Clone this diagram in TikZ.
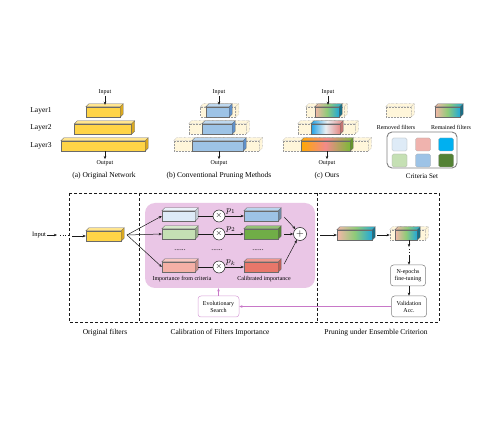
\documentclass[tikz,border=0pt]{standalone}
\usepackage{fontspec}
\setmainfont{Liberation Serif}
\usepackage{tikz}
\usetikzlibrary{arrows.meta,positioning,calc,shapes.misc}
\definecolor{ink}{HTML}{1A1A1A}
\definecolor{edge}{HTML}{6A6A6A}
\definecolor{yel}{HTML}{FFD447}
\definecolor{yelt}{HTML}{FFE58F}
\definecolor{yeld}{HTML}{D9A820}
\definecolor{cream}{HTML}{FFF6DA}
\definecolor{blu}{HTML}{9DC3E6}
\definecolor{blut}{HTML}{BDD7EE}
\definecolor{blud}{HTML}{5E8FC8}
\definecolor{crA}{HTML}{DEEBF7}
\definecolor{crB}{HTML}{F0B3AE}
\definecolor{crC}{HTML}{00B0F0}
\definecolor{crD}{HTML}{C5E0B4}
\definecolor{crE}{HTML}{9DC3E6}
\definecolor{crF}{HTML}{548235}
\definecolor{wone}{HTML}{9DC3E6}
\definecolor{wtwo}{HTML}{70AD47}
\definecolor{wk}{HTML}{E8776A}
\definecolor{ckin}{HTML}{F4B0A6}
\definecolor{gpink}{HTML}{F4B6A8}
\definecolor{ggreen}{HTML}{8FCB78}
\definecolor{gcyan}{HTML}{22A8D8}
\definecolor{gteal}{HTML}{1A6E85}
\definecolor{gblue}{HTML}{1EA0E6}
\definecolor{gwhite}{HTML}{E8EEF2}
\definecolor{gred}{HTML}{E58A86}
\definecolor{gorange}{HTML}{FFA800}
\definecolor{gsalmon}{HTML}{F28A8A}
\definecolor{glime}{HTML}{7DB83A}
\definecolor{pinkbg}{HTML}{EAC6E6}
\definecolor{evo}{HTML}{D9A0D9}
\definecolor{evoarrow}{HTML}{C878C8}

% depth faces of a filter block (top face, side face)
\newcommand{\slab}[3]{%
  \path[draw=edge,line width=0.3pt,#2] (#1.north west) -- ++(3,-3) -- ($(#1.north east)+(3,-3)$) -- (#1.north east) -- cycle;
  \path[draw=edge,line width=0.3pt,#3] (#1.north east) -- ($(#1.north east)+(3,-3)$) -- ($(#1.south east)+(3,-3)$) -- (#1.south east) -- cycle;}

\begin{document}
\begin{tikzpicture}[x=1pt,y=-1pt]
    \tikzset{
      filt/.style={draw=edge,line width=0.3pt,minimum height=10,inner sep=0,fill=#1},
      filt/.default=white,
      gone/.style={draw=gray!80,densely dotted,line width=0.5pt,fill=cream,minimum height=10,inner sep=0},
      gonef/.style={draw=gray!80,densely dotted,line width=0.5pt,fill=cream},
      gradA/.style={left color=gpink,right color=gcyan,middle color=ggreen},
      gradB/.style={left color=gblue,right color=gred,middle color=gwhite},
      gradC/.style={left color=gorange,right color=glime,middle color=gsalmon},
      lbl/.style={font=\fontsize{7.5}{8.5}\selectfont,inner sep=1pt},
      tiny/.style={font=\fontsize{6}{7}\selectfont,align=center,inner sep=1pt},
      plbl/.style={above,pos=0.3,font=\fontsize{9}{9}\selectfont,inner sep=1pt},
      arrow/.style={-{Stealth[length=3.2pt,width=2.6pt]},draw=ink,line width=0.5pt},
      parrow/.style={-{Stealth[length=3.2pt,width=2.6pt]},draw=evoarrow,line width=0.6pt},
      rbox/.style={rounded corners=3pt,draw=gray,line width=0.5pt,fill=white,minimum width=35,minimum height=21,align=center,font=\fontsize{6}{7}\selectfont,inner sep=1pt},
      crit/.style={draw=gray!70,line width=0.3pt,rounded corners=1.5pt,minimum width=15,minimum height=13,inner sep=0,fill=#1},
      opnode/.style={circle,draw=ink,line width=0.5pt,fill=white,inner sep=0,minimum size=#1},
      frame/.style={draw=ink,line width=0.8pt,dash pattern=on 3pt off 2pt}
    }
    \useasboundingbox[fill=white] (0,0) rectangle (491,441);

    % (a) original network
    \node[lbl] (l1) at (41,111) {Layer1};
    \node[lbl] (l2) at (41,128) {Layer2};
    \node[lbl] (l3) at (41,146) {Layer3};
    \node[filt=yel,minimum width=34] (a1) at (103,112) {};
    \slab{a1}{fill=yelt}{fill=yeld}
    \node[filt=yel,minimum width=57] (a2) at (103,129) {};
    \slab{a2}{fill=yelt}{fill=yeld}
    \node[filt=yel,minimum width=84] (a3) at (103,146) {};
    \slab{a3}{fill=yelt}{fill=yeld}
    \node[tiny] (ain) at (105,92) {Input};
    \node[tiny] (aout) at (105,163) {Output};
    \draw[arrow] (ain) -- ($(ain |- a1.north)+(0,-2)$);
    \draw[arrow] (a3.south -| aout) -- (aout);
    \node[lbl] (capa) at (104,176) {(a) Original Network};

    % (b) conventional pruning
    \node[gone,minimum width=35] (b1o) at (218,112) {};
    \slab{b1o}{gonef}{gonef}
    \node[filt=blu,minimum width=23] (b1) at (217.5,112) {};
    \slab{b1}{fill=blut}{fill=blud}
    \node[gone,minimum width=57] (b2o) at (217.5,129) {};
    \slab{b2o}{gonef}{gonef}
    \node[filt=blu,minimum width=30] (b2) at (217,129) {};
    \slab{b2}{fill=blut}{fill=blud}
    \node[gone,minimum width=85] (b3o) at (216.5,146) {};
    \slab{b3o}{gonef}{gonef}
    \node[filt=blu,minimum width=51] (b3) at (217.5,146) {};
    \slab{b3}{fill=blut}{fill=blud}
    \node[tiny] (bin) at (219,92) {Input};
    \node[tiny] (bout) at (219,163) {Output};
    \draw[arrow] (bin) -- ($(bin |- b1.north)+(0,-2)$);
    \draw[arrow] (b3.south -| bout) -- (bout);
    \node[lbl] (capb) at (219,176) {(b) Conventional Pruning Methods};

    % (c) ours
    \node[gone,minimum width=38] (c1o) at (325,112) {};
    \slab{c1o}{gonef}{gonef}
    \node[filt,gradA,minimum width=24] (c1) at (327,112) {};
    \slab{c1}{gradA}{fill=gteal}
    \node[gone,minimum width=57] (c2o) at (326.5,129) {};
    \slab{c2o}{gonef}{gonef}
    \node[filt,gradB,minimum width=29] (c2) at (325.5,129) {};
    \slab{c2}{gradB}{fill=gred!85!black}
    \node[gone,minimum width=85] (c3o) at (325.5,146) {};
    \slab{c3o}{gonef}{gonef}
    \node[filt,gradC,minimum width=49] (c3) at (325.5,146) {};
    \slab{c3}{gradC}{fill=glime!80!black}
    \node[tiny] (cin) at (328,92) {Input};
    \node[tiny] (cout) at (327,163) {Output};
    \draw[arrow] (cin) -- ($(cin |- c1.north)+(0,-2)$);
    \draw[arrow] (c3.south -| cout) -- (cout);
    \node[lbl] (capc) at (327,176) {(c) Ours};

    % legend
    \node[gone,minimum width=25] (rmv) at (398.5,112) {};
    \slab{rmv}{gonef}{gonef}
    \node[filt,gradA,minimum width=25] (rmn) at (447.5,112) {};
    \slab{rmn}{gradA}{fill=gteal}
    \node[tiny] (rmvl) at (396,127) {Removed filters};
    \node[tiny] (rmnl) at (451,127) {Remained filters};
    \node[draw=gray,line width=0.9pt,rounded corners=5pt,minimum width=70,minimum height=36] (cset) at (422,150) {};
    \node[crit=crA] (sA) at (399.5,144.5) {};
    \node[crit=crB] (sB) at (423,144.5) {};
    \node[crit=crC] (sC) at (446,144.5) {};
    \node[crit=crD] (sD) at (399.5,160.5) {};
    \node[crit=crE] (sE) at (423,160.5) {};
    \node[crit=crF] (sF) at (446,160.5) {};
    \node[lbl,font=\fontsize{7}{8}\selectfont] (csetl) at (422,176) {Criteria Set};

    % bottom: dashed panels
    \draw[frame] (69,193) rectangle (439,322);
    \draw[frame] (139,193) -- (139,322);
    \draw[frame] (317,193) -- (317,322);

    % original filters
    \node[lbl,font=\fontsize{6.5}{7.5}\selectfont] (inp) at (39,235) {Input};
    \coordinate (ia) at (57,235);
    \coordinate (ib) at (60,235);
    \coordinate (ic) at (68,235);
    \coordinate (id) at (72,236);
    \node[filt=yel,minimum width=35] (orig) at (103.5,236) {};
    \slab{orig}{fill=yelt}{fill=yeld}
    \draw[arrow] (inp) -- (ia);
    \draw[ink,line width=0.6pt,dotted] (ib) -- (ic);
    \draw[arrow] (id) -- (orig.west);

    % calibration
    \node[fill=pinkbg,rounded corners=10pt,minimum width=170,minimum height=85] (calib) at (230,245.5) {};
    \coordinate (fan) at (127,235);
    \node[filt=crA,minimum width=33] (k1) at (178.5,216) {};
    \slab{k1}{fill=crA!60}{fill=crA!70!gray}
    \node[filt=crD,minimum width=33] (k2) at (178.5,234) {};
    \slab{k2}{fill=crD!70}{fill=crD!75!black}
    \node[filt=ckin,minimum width=33] (kk) at (178.5,267) {};
    \slab{kk}{fill=ckin!70}{fill=ckin!80!black}
    \node[opnode=12,font=\fontsize{8.5}{9}\selectfont] (m1) at (219,216) {$\times$};
    \node[opnode=12,font=\fontsize{8.5}{9}\selectfont] (m2) at (219,234) {$\times$};
    \node[opnode=12,font=\fontsize{8.5}{9}\selectfont] (mk) at (219,267) {$\times$};
    \node[filt=wone,minimum width=34] (w1) at (261,216) {};
    \slab{w1}{fill=wone!70}{fill=wone!70!black}
    \node[filt=wtwo,minimum width=34] (w2) at (261,234) {};
    \slab{w2}{fill=wtwo!75}{fill=wtwo!75!black}
    \node[filt=wk,minimum width=34] (wkk) at (261,267) {};
    \slab{wkk}{fill=wk!75}{fill=wk!80!black}
    \node[opnode=13,font=\fontsize{10}{10}\selectfont] (sum) at (300,234) {$+$};
    \node[lbl] (dt1) at (180,250) {......};
    \node[lbl] (dt2) at (217,250) {......};
    \node[lbl] (dt3) at (258,250) {......};
    \node[tiny] (impl) at (182,279) {Importance from criteria};
    \node[tiny] (call) at (264,279) {Calibrated importance};
    \draw[arrow] (fan) -- (k1.west);
    \draw[arrow] (fan) -- (k2.west);
    \draw[arrow] (fan) -- (kk.west);
    \draw[ink,line width=0.5pt] ($(k1.east)+(3,0)$) -- (m1);
    \draw[ink,line width=0.5pt] ($(k2.east)+(3,0)$) -- (m2);
    \draw[ink,line width=0.5pt] ($(kk.east)+(3,0)$) -- (mk);
    \draw[arrow] (m1) -- node[plbl] {$p_1$} (w1.west);
    \draw[arrow] (m2) -- node[plbl] {$p_2$} (w2.west);
    \draw[arrow] (mk) -- node[plbl] {$p_k$} (wkk.west);
    \draw[arrow] ($(w1.east)+(6,1)$) -- (sum);
    \draw[arrow] ($(w2.east)+(6,0)$) -- (sum);
    \draw[arrow] ($(wkk.east)+(6,-3)$) -- (sum);
    \node[rbox,draw=evo,minimum width=41] (evs) at (218.5,306.5) {Evolutionary\\Search};
    \draw[parrow] (evs.north) -- (evs.north |- calib.south);

    % pruning under ensemble criterion
    \coordinate (rs) at (320,235);
    \node[filt,gradA,minimum width=35] (pr) at (354.5,235) {};
    \slab{pr}{gradA}{fill=gteal}
    \coordinate (pa) at (377,235);
    \node[gone,minimum width=35] (pd) at (407.5,235) {};
    \slab{pd}{gonef}{gonef}
    \node[filt,gradA,minimum width=22] (pi) at (406,235) {};
    \slab{pi}{gradA}{fill=gteal}
    \draw[arrow] (rs) -- (pr.west);
    \draw[arrow] (pa) -- (pd.west);
    \coordinate (da) at (409,240);
    \coordinate (db) at (409,247);
    \coordinate (dc) at (409,249);
    \coordinate (dd) at (409,254);
    \coordinate (de) at (409,255.5);
    \node[rbox] (ft) at (408,275.5) {N-epochs\\fine-tuning};
    \node[rbox] (val) at (409,306.5) {Validation\\Acc.};
    \draw[arrow] (da) -- (db);
    \draw[ink,line width=0.6pt,dotted] (dc) -- (dd);
    \draw[arrow] (de) -- (ft.north -| de);
    \draw[arrow] (ft.south -| val) -- (val);
    \draw[parrow] (val.west) -- (evs.east);

    % captions
    \node[lbl] (capo) at (105,333) {Original filters};
    \node[lbl] (capm) at (220,333) {Calibration of Filters Importance};
    \node[lbl] (capr) at (376,333) {Pruning under Ensemble Criterion};
  \end{tikzpicture}
\end{document}
